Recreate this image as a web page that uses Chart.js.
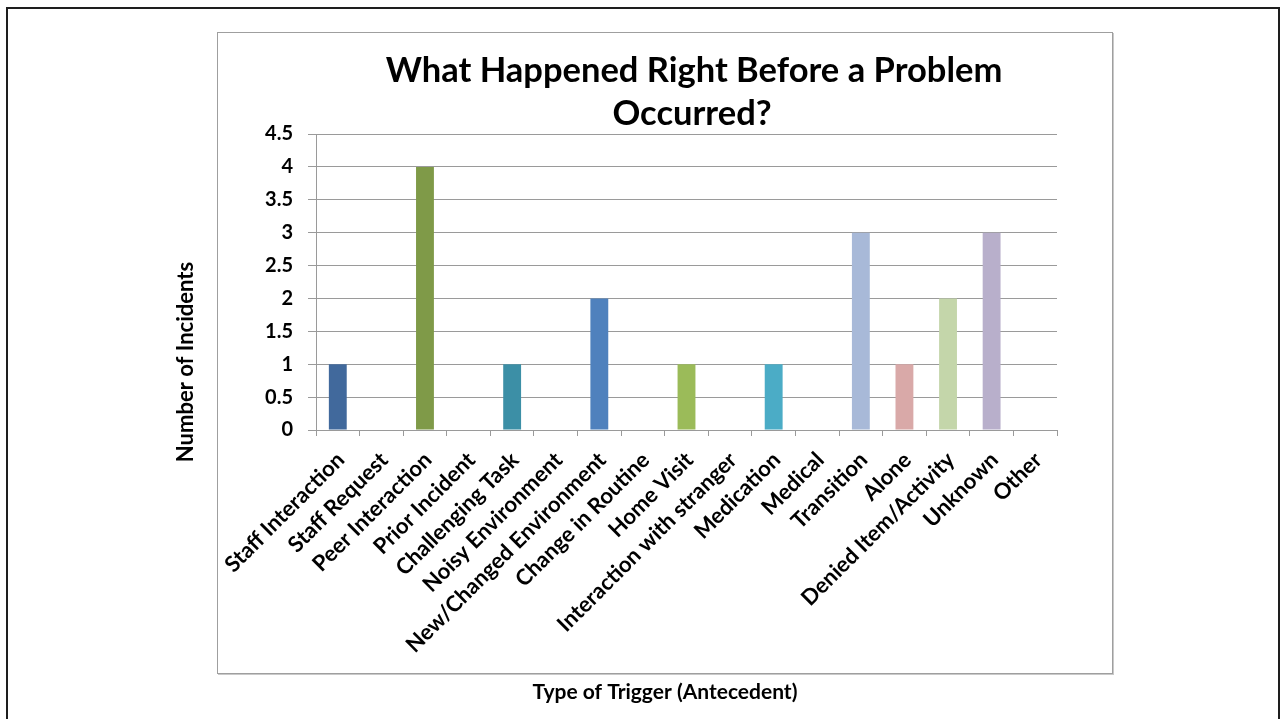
<!DOCTYPE html>
<html>
<head>
<meta charset="utf-8">
<title>Antecedent triggers</title>
<script src="https://cdn.jsdelivr.net/npm/chart.js@4.4.1/dist/chart.umd.min.js"></script>
<style>
  html, body { margin: 0; padding: 0; background: #fff; overflow: hidden; }
  #slide {
    position: absolute; left: 6px; top: 7px; width: 1274px; height: 780px;
    border: 2px solid #1e1e1e; box-sizing: border-box;
  }
  #frame {
    position: absolute; left: 217px; top: 32px; width: 896px; height: 642px;
    border: 1px solid #9f9f9f; box-shadow: 1px 1px 0 #c9c9c9; box-sizing: border-box;
  }
  #wrap { position: absolute; left: 0; top: 0; width: 1283px; height: 719px; }
</style>
</head>
<body>
<div id="slide"></div>
<div id="frame"></div>
<div id="wrap"><canvas id="chart" width="1283" height="719"></canvas></div>
<script>
// Incident counts per trigger type
const triggers = [
    'Staff Interaction', 'Staff Request', 'Peer Interaction', 'Prior Incident',
    'Challenging Task', 'Noisy Environment', 'New/Changed Environment',
    'Change in Routine', 'Home Visit', 'Interaction with stranger', 'Medication',
    'Medical', 'Transition', 'Alone', 'Denied Item/Activity', 'Unknown', 'Other'
];
const incidents = [1, 0, 4, 0, 1, 0, 2, 0, 1, 0, 1, 0, 3, 1, 2, 3, 0];
const barColors = [
    '#41699c', '#9e4a48', '#7f9a48', '#6a5287', '#3c8fa6', '#d98a3e', '#4f81bd',
    '#c0504d', '#9bbb59', '#8064a2', '#4bacc6', '#f79646', '#a8b9d8', '#d9a9a8',
    '#c4d6aa', '#b8afcb', '#a5d5e2'
];

const titleLines = ['What Happened Right Before a Problem', 'Occurred?'];
const xTitle = 'Type of Trigger (Antecedent)';
const yTitle = 'Number of Incidents';

const FONT = 'Lato, "Open Sans", sans-serif';
const GRID = '#9a9a9a';

// Chart title and axis titles sit outside the plot, centred on the frame
const titlesPlugin = {
    id: 'titles',
    afterDraw(chart) {
        const ctx = chart.ctx;
        ctx.save();
        ctx.fillStyle = '#000';
        ctx.textAlign = 'center';
        ctx.textBaseline = 'alphabetic';

        ctx.font = 'bold 34.5px ' + FONT;
        ctx.fillText(titleLines[0], 694, 82);
        ctx.fillText(titleLines[1], 692, 125);

        ctx.font = 'bold 21px ' + FONT;
        ctx.textBaseline = 'middle';
        ctx.fillText(xTitle, 665, 692);

        ctx.font = 'bold 22px ' + FONT;
        ctx.translate(186, 362);
        ctx.rotate(-Math.PI / 2);
        ctx.fillText(yTitle, 0, 0);
        ctx.restore();
    }
};

const ctx = document.getElementById('chart').getContext('2d');
new Chart(ctx, {
    type: 'bar',
    data: {
        labels: triggers,
        datasets: [{
            label: 'Incidents',
            data: incidents,
            backgroundColor: barColors,
            borderWidth: 0,
            barPercentage: 0.41,
            categoryPercentage: 1
        }]
    },
    options: {
        responsive: false,
        animation: false,
        layout: {
            padding: { left: 216, right: 226, top: 134, bottom: 0 }
        },
        plugins: {
            legend: { display: false },
            title: { display: false },
            tooltip: { enabled: false }
        },
        scales: {
            x: {
                offset: true,
                grid: {
                    offset: true,
                    drawOnChartArea: false,
                    drawTicks: true,
                    tickLength: 6,
                    color: GRID
                },
                border: { color: GRID },
                ticks: {
                    autoSkip: false,
                    minRotation: 45,
                    maxRotation: 45,
                    padding: 11,
                    labelOffset: 3,
                    color: '#000',
                    font: { family: FONT, weight: 'bold', size: 22 }
                },
                afterFit: (scale) => { scale.height = 289; }
            },
            y: {
                min: 0,
                max: 4.5,
                grid: { color: GRID, tickLength: 8 },
                border: { color: GRID },
                ticks: {
                    stepSize: 0.5,
                    padding: 15,
                    color: '#000',
                    font: { family: FONT, weight: 'bold', size: 20 },
                    callback: (v) => String(v)
                },
                afterFit: (scale) => { scale.width = 100; }
            }
        }
    },
    plugins: [titlesPlugin]
});
</script>
</body>
</html>
